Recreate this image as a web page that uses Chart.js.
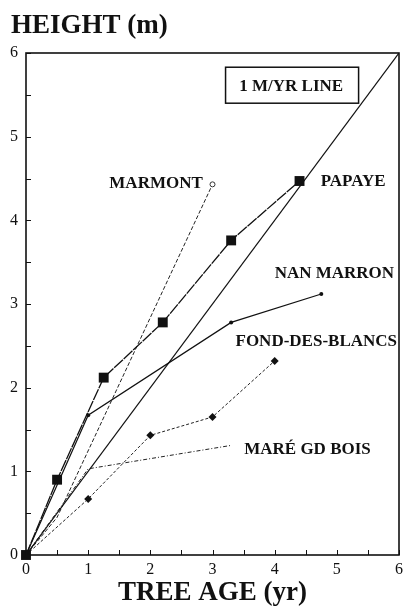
<!DOCTYPE html>
<html>
<head>
<meta charset="utf-8">
<script src="https://cdn.jsdelivr.net/npm/chart.js@4/dist/chart.umd.min.js"></script>
<style>
  html, body { margin: 0; padding: 0; background: #fff; }
  canvas { display: block; }
</style>
</head>
<body>
<canvas id="growthChart" width="408" height="607"></canvas>
<script>
// tree age (yr) and height (m) per site
const papayeAge = [0, 0.5, 1.25, 2.2, 3.3, 4.4];
const papayeHeight = [0, 0.9, 2.12, 2.78, 3.76, 4.47];

const marmontAge = [0, 0.5, 3.0];
const marmontHeight = [0, 0.45, 4.43];

const nanMarronAge = [0, 1, 3.3, 4.75];
const nanMarronHeight = [0, 1.67, 2.78, 3.12];

const fondAge = [0, 1, 2, 3, 4];
const fondHeight = [0, 0.67, 1.43, 1.65, 2.32];

const mareAge = [0, 1, 3.3];
const mareHeight = [0, 1.03, 1.31];

// 1 m per year reference
const refAge = [0, 6];
const refHeight = [0, 6];

const tickValues = [0, 1, 2, 3, 4, 5, 6];

const serif = '"Liberation Serif", "Times New Roman", serif';

function points(xs, ys) {
    return xs.map((x, i) => ({ x: x, y: ys[i] }));
}

// site names, placed in data units (left edge, baseline)
const siteLabels = [
    { text: 'MARMONT', x: 1.34, y: 4.39 },
    { text: 'PAPAYE', x: 4.74, y: 4.41 },
    { text: 'NAN MARRON', x: 4.0, y: 3.31 },
    { text: 'FOND-DES-BLANCS', x: 3.37, y: 2.50 },
    { text: 'MARÉ GD BOIS', x: 3.51, y: 1.21 }
];

const framePlugin = {
    id: 'frame',
    afterDraw(chart) {
        const ctx = chart.ctx;
        const area = chart.chartArea;
        const xs = chart.scales.x;
        const ys = chart.scales.y;
        ctx.save();
        ctx.strokeStyle = '#111';
        ctx.lineWidth = 1.6;
        ctx.strokeRect(area.left, area.top, area.right - area.left, area.bottom - area.top);

        // inward tick marks every half unit
        ctx.lineWidth = 1;
        xs.ticks.forEach(t => {
            const px = Math.round(xs.getPixelForValue(t.value)) + 0.5;
            ctx.beginPath();
            ctx.moveTo(px, area.bottom);
            ctx.lineTo(px, area.bottom - 5);
            ctx.stroke();
        });
        ys.ticks.forEach(t => {
            const py = Math.round(ys.getPixelForValue(t.value)) + 0.5;
            ctx.beginPath();
            ctx.moveTo(area.left, py);
            ctx.lineTo(area.left + 5, py);
            ctx.stroke();
        });

        // axis heading
        ctx.fillStyle = '#111';
        ctx.font = 'bold 27px ' + serif;
        ctx.textBaseline = 'alphabetic';
        ctx.textAlign = 'left';
        ctx.fillText('HEIGHT (m)', 11, 33);

        // site names
        ctx.font = 'bold 17px ' + serif;
        siteLabels.forEach(l => {
            ctx.fillText(l.text, xs.getPixelForValue(l.x), ys.getPixelForValue(l.y));
        });

        // boxed key for the reference line
        const bx0 = xs.getPixelForValue(3.21);
        const bx1 = xs.getPixelForValue(5.35);
        const by0 = ys.getPixelForValue(5.83);
        const by1 = ys.getPixelForValue(5.40);
        ctx.lineWidth = 1.5;
        ctx.strokeRect(bx0, by0, bx1 - bx0, by1 - by0);
        ctx.fillText('1 M/YR LINE', xs.getPixelForValue(3.43), ys.getPixelForValue(5.54));
        ctx.restore();
    }
};

new Chart(document.getElementById('growthChart'), {
    type: 'scatter',
    data: {
        datasets: [
            {
                label: '1 M/YR LINE',
                data: points(refAge, refHeight),
                showLine: true,
                borderColor: '#111',
                borderWidth: 1.2,
                pointRadius: 0
            },
            {
                label: 'PAPAYE',
                data: points(papayeAge, papayeHeight),
                showLine: true,
                clip: false,
                borderColor: '#111',
                borderWidth: 1.3,
                borderDash: [12, 1],
                pointStyle: 'rect',
                pointRadius: 7,
                backgroundColor: '#111',
                pointBorderWidth: 0
            },
            {
                label: 'MARMONT',
                data: points(marmontAge, marmontHeight),
                showLine: true,
                borderColor: '#222',
                borderWidth: 1,
                borderDash: [4, 2],
                pointStyle: 'circle',
                pointRadius: [0, 0, 2.5],
                backgroundColor: '#fff',
                pointBorderColor: '#333',
                pointBorderWidth: 1
            },
            {
                label: 'NAN MARRON',
                data: points(nanMarronAge, nanMarronHeight),
                showLine: true,
                borderColor: '#111',
                borderWidth: 1.2,
                pointStyle: 'circle',
                pointRadius: [0, 2, 2, 2],
                backgroundColor: '#111',
                pointBorderWidth: 0
            },
            {
                label: 'FOND-DES-BLANCS',
                data: points(fondAge, fondHeight),
                showLine: true,
                borderColor: '#222',
                borderWidth: 1,
                borderDash: [3, 2],
                pointStyle: 'rectRot',
                pointRadius: [0, 4, 4, 4, 4],
                backgroundColor: '#111',
                pointBorderWidth: 0
            },
            {
                label: 'MARÉ GD BOIS',
                data: points(mareAge, mareHeight),
                showLine: true,
                borderColor: '#222',
                borderWidth: 1,
                borderDash: [4, 2, 1, 2],
                pointRadius: 0
            }
        ]
    },
    options: {
        responsive: false,
        animation: false,
        layout: {
            padding: { top: 53, right: 6, left: 0, bottom: 0 }
        },
        plugins: {
            legend: { display: false },
            tooltip: { enabled: false }
        },
        scales: {
            x: {
                type: 'linear',
                min: 0,
                max: 6,
                grid: { display: false, drawTicks: false },
                border: { display: false },
                afterFit(scale) { scale.height = 52; },
                ticks: {
                    stepSize: 0.5,
                    padding: 5,
                    color: '#111',
                    font: { family: serif, size: 16 },
                    maxRotation: 0,
                    autoSkip: false,
                    callback: v => tickValues.includes(v) ? String(v) : ''
                },
                title: {
                    display: true,
                    text: 'TREE AGE (yr)',
                    color: '#111',
                    font: { family: serif, size: 27, weight: 'bold', lineHeight: 1 },
                    padding: { top: 0, bottom: 0.5 }
                }
            },
            y: {
                type: 'linear',
                min: 0,
                max: 6,
                grid: { display: false, drawTicks: false },
                border: { display: false },
                afterFit(scale) { scale.width = 26; },
                ticks: {
                    stepSize: 0.5,
                    padding: 8,
                    color: '#111',
                    font: { family: serif, size: 16 },
                    autoSkip: false,
                    callback: v => tickValues.includes(v) ? String(v) : ''
                }
            }
        }
    },
    plugins: [framePlugin]
});
</script>
</body>
</html>
